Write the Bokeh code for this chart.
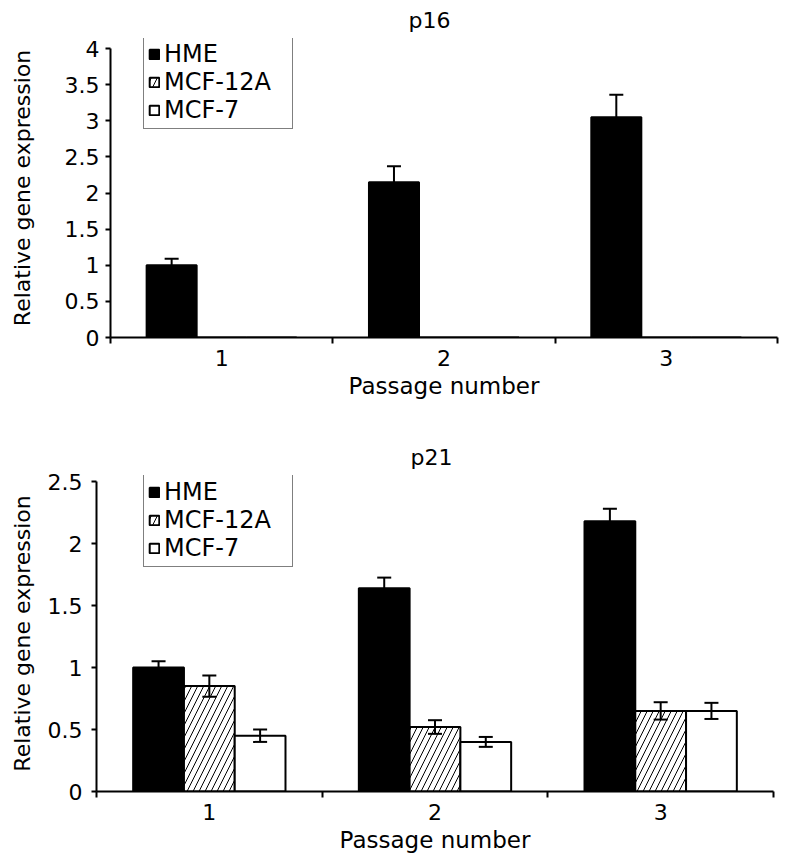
from bokeh.plotting import figure
from bokeh.models import (ColumnDataSource, Range1d, FixedTicker, NumeralTickFormatter,
                          Whisker, TeeHead, Legend, LegendItem)
from bokeh.transform import dodge
from bokeh.embed import file_html
from bokeh.resources import INLINE

# ---------------- data ----------------
passages = ["1", "2", "3"]
series = ["HME", "MCF-12A", "MCF-7"]

p16_hme = [1.0, 2.15, 3.05]
p16_hme_err = [0.09, 0.22, 0.31]
p16_mcf12a = [0.0, 0.0, 0.0]
p16_mcf12a_err = [0.0, 0.0, 0.0]
p16_mcf7 = [0.0, 0.0, 0.0]
p16_mcf7_err = [0.0, 0.0, 0.0]
p16_yticks = [0, 0.5, 1, 1.5, 2, 2.5, 3, 3.5, 4]

p21_hme = [1.0, 1.64, 2.18]
p21_hme_err = [0.05, 0.085, 0.10]
p21_mcf12a = [0.85, 0.52, 0.65]
p21_mcf12a_err = [0.085, 0.055, 0.07]
p21_mcf7 = [0.45, 0.40, 0.65]
p21_mcf7_err = [0.05, 0.04, 0.065]
p21_yticks = [0, 0.5, 1, 1.5, 2, 2.5]

FONT = "DejaVu Sans"
BAR_W = 0.225
OFFSETS = [-0.225, 0.0, 0.225]
STYLES = [
    dict(fill_color="black"),
    dict(fill_color="white", hatch_pattern="/", hatch_color="black", hatch_scale=12, hatch_weight=1),
    dict(fill_color="white"),
]


def make_panel(title, values, errors, yticks, ymax, headroom_px, frame_w, frame_h,
               borders, legend_loc, ytick_standoff, ylabel_standoff, title_offset, title_standoff):
    bl, br, bt, bb = borders
    # extend the range a few pixels above the top tick so the legend box fits in the frame
    y_end = ymax + ymax * headroom_px / (frame_h - headroom_px)
    p = figure(frame_width=frame_w, frame_height=frame_h, x_range=Range1d(0, len(passages)),
               y_range=Range1d(0, y_end), output_backend="svg", toolbar_location=None,
               min_border_left=bl, min_border_right=br, min_border_top=bt, min_border_bottom=bb)
    p.outline_line_color = None
    p.grid.visible = False

    p.title.text = title
    p.title.align = "left"
    p.title.offset = title_offset
    p.title.vertical_align = "top"
    p.title.standoff = title_standoff
    p.title.text_font = FONT
    p.title.text_font_size = "22px"
    p.title.text_font_style = "normal"
    p.title.text_color = "black"

    centers = [i + 0.5 for i in range(len(passages))]
    items = []
    for name, vals, errs, off, st in zip(series, values, errors, OFFSETS, STYLES):
        src = ColumnDataSource(dict(x=centers, top=vals))
        r = p.vbar(x=dodge("x", off, range=p.x_range), top="top", width=BAR_W, source=src,
                   line_color="black", line_width=2, **st)
        items.append(LegendItem(label=name, renderers=[r]))
        xs = [c for c, e in zip(centers, errs) if e > 0]
        if xs:
            ws = ColumnDataSource(dict(
                x=xs,
                upper=[v + e for v, e in zip(vals, errs) if e > 0],
                lower=[v - e for v, e in zip(vals, errs) if e > 0]))
            wk = Whisker(base=dodge("x", off, range=p.x_range), upper="upper", lower="lower",
                         source=ws, line_color="black", line_width=2, level="annotation",
                         upper_head=TeeHead(size=14, line_width=2, line_color="black"),
                         lower_head=TeeHead(size=14, line_width=2, line_color="black"))
            p.add_layout(wk)

    leg = Legend(items=items, location=legend_loc)
    leg.label_text_font = FONT
    leg.label_text_font_size = "24px"
    leg.label_text_color = "black"
    leg.glyph_width = 12
    leg.glyph_height = 12
    leg.label_standoff = 4
    leg.label_width = 124
    leg.label_height = 26
    leg.padding = 4
    leg.spacing = 0
    leg.margin = 0
    leg.border_line_color = "black"
    leg.border_line_width = 1.5
    p.add_layout(leg)

    xa = p.xaxis[0]
    xa.ticker = FixedTicker(ticks=centers, minor_ticks=list(range(len(passages) + 1)))
    xa.major_label_overrides = {c: lab for c, lab in zip(centers, passages)}
    xa.major_tick_out = 0
    xa.major_tick_in = 0
    xa.minor_tick_out = 6
    xa.minor_tick_in = 0
    xa.minor_tick_line_width = 2
    xa.minor_tick_line_color = "black"
    xa.axis_line_width = 2
    xa.axis_line_color = "black"
    xa.major_label_text_font = FONT
    xa.major_label_text_font_size = "22px"
    xa.major_label_text_color = "black"
    xa.major_label_standoff = 6
    xa.axis_label = "Passage number"
    xa.axis_label_text_font = FONT
    xa.axis_label_text_font_size = "23px"
    xa.axis_label_text_font_style = "normal"
    xa.axis_label_text_color = "black"
    xa.axis_label_standoff = 4

    ya = p.yaxis[0]
    ya.bounds = (0, ymax)
    ya.ticker = FixedTicker(ticks=yticks)
    ya.formatter = NumeralTickFormatter(format="0.[0]")
    ya.minor_tick_line_color = None
    ya.major_tick_out = 5
    ya.major_tick_in = 0
    ya.major_tick_line_width = 2
    ya.major_tick_line_color = "black"
    ya.axis_line_width = 2
    ya.axis_line_color = "black"
    ya.major_label_text_font = FONT
    ya.major_label_text_font_size = "22px"
    ya.major_label_text_color = "black"
    ya.major_label_standoff = ytick_standoff
    ya.axis_label = "Relative gene expression"
    ya.axis_label_text_font = FONT
    ya.axis_label_text_font_size = "22px"
    ya.axis_label_text_font_style = "normal"
    ya.axis_label_text_color = "black"
    ya.axis_label_standoff = ylabel_standoff
    return p


top = make_panel("p16",
                 [p16_hme, p16_mcf12a, p16_mcf7],
                 [p16_hme_err, p16_mcf12a_err, p16_mcf7_err],
                 p16_yticks, 4, 10, 667, 299, (110, 8, 38, 100), (33, 208), 6, 27, 298, 8)
bottom = make_panel("p21",
                    [p21_hme, p21_mcf12a, p21_mcf7],
                    [p21_hme_err, p21_mcf12a_err, p21_mcf7_err],
                    p21_yticks, 2.5, 6, 677, 316, (96, 12, 38, 70), (47, 224), 9, 10, 314, 8)

# two independent roots stacked on the page (no border alignment between them)
open("out.html", "w").write(file_html([top, bottom], INLINE))
